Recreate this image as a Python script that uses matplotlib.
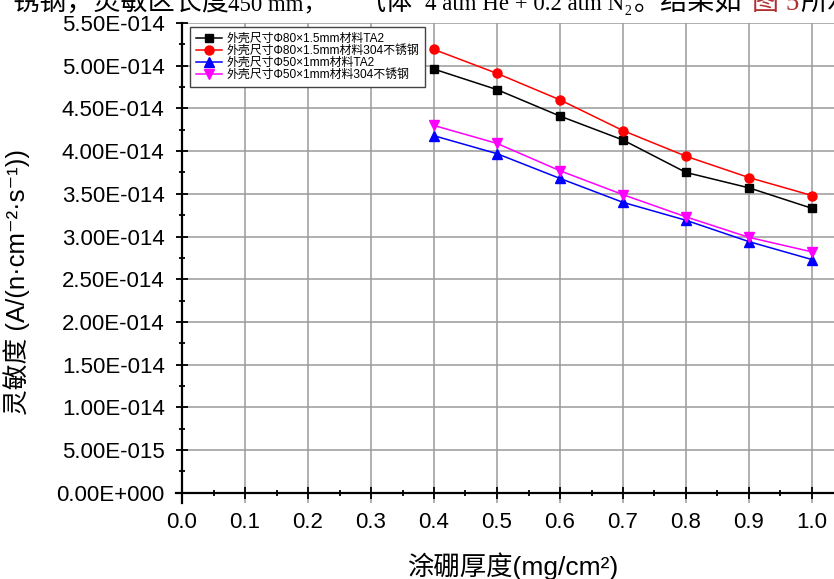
import numpy as np
import matplotlib
matplotlib.use("Agg")
import matplotlib.pyplot as plt
from matplotlib.ticker import MultipleLocator, FuncFormatter

plt.rcParams['font.family'] = ['Liberation Sans', 'Noto Sans CJK SC', 'DejaVu Sans']

# data
thickness = [0.4, 0.5, 0.6, 0.7, 0.8, 0.9, 1.0]
ta2_80 = [4.96e-14, 4.72e-14, 4.41e-14, 4.13e-14, 3.75e-14, 3.57e-14, 3.33e-14]
ss_80 = [5.19e-14, 4.91e-14, 4.60e-14, 4.24e-14, 3.94e-14, 3.69e-14, 3.48e-14]
ta2_50 = [4.18e-14, 3.97e-14, 3.68e-14, 3.40e-14, 3.19e-14, 2.94e-14, 2.73e-14]
ss_50 = [4.30e-14, 4.09e-14, 3.77e-14, 3.49e-14, 3.23e-14, 2.99e-14, 2.82e-14]
labels = ['外壳尺寸Φ80×1.5mm材料TA2', '外壳尺寸Φ80×1.5mm材料304不锈钢',
          '外壳尺寸Φ50×1mm材料TA2', '外壳尺寸Φ50×1mm材料304不锈钢']

fig = plt.figure(figsize=(8.34, 5.79), dpi=100)
ax = fig.add_axes([175.7 / 834, 1 - 503 / 579, 1 - 175.7 / 834, (503 - 23) / 579])

ax.plot(thickness, ta2_80, '-s', color='black', lw=1.1, ms=6, label=labels[0])
ax.plot(thickness, ss_80, '-o', color='red', lw=1.1, ms=6.5, label=labels[1])
ax.plot(thickness, ta2_50, '-^', color='blue', lw=1.1, ms=6.5, label=labels[2])
ax.plot(thickness, ss_50, '-v', color='magenta', lw=1.1, ms=6.5, label=labels[3])

ax.set_xlim(-0.01, (834 - 182) / 630)
ax.set_ylim(-0.12e-14, 5.5e-14)
ax.spines['top'].set_visible(False)
ax.spines['right'].set_visible(False)
ax.spines['left'].set_position(('data', 0))
ax.spines['bottom'].set_position(('data', 0))
ax.spines['left'].set_linewidth(1.6)
ax.spines['bottom'].set_linewidth(1.6)

ax.xaxis.set_major_locator(MultipleLocator(0.1))
ax.xaxis.set_minor_locator(MultipleLocator(0.05))
ax.yaxis.set_major_locator(MultipleLocator(0.5e-14))
ax.yaxis.set_minor_locator(MultipleLocator(0.25e-14))


def sci(v, pos):
    m, e = f"{v:.2E}".split('E')
    return f"{m}E{int(e):+04d}"


ax.yaxis.set_major_formatter(FuncFormatter(sci))
ax.xaxis.set_major_formatter(FuncFormatter(lambda v, p: f"{v:.1f}"))
ax.tick_params(which='major', direction='inout', length=9, width=1.3, labelsize=16)
ax.tick_params(which='minor', direction='inout', length=5, width=1.3)
ax.tick_params(axis='x', pad=9)
ax.tick_params(axis='y', pad=8)
ax.grid(True, which='major', color='#9a9a9a', lw=1.1)
ax.set_axisbelow(True)

ax.set_xlabel('涂硼厚度(mg/cm²)', fontsize=19)
ax.set_ylabel('灵敏度 (A/(n·cm⁻²·s⁻¹))', fontsize=18.5)
ax.xaxis.set_label_coords((513 - 175.7) / (834 - 175.7), -0.103)
ax.yaxis.set_label_coords(-0.222, 0.46)

leg = ax.legend(loc='upper left', bbox_to_anchor=(0.013, 1.004), fontsize=8.6,
                fancybox=False, edgecolor='#444444', framealpha=1,
                handlelength=2.2, borderpad=0.5, labelspacing=0.0, handletextpad=0.3)
leg.get_frame().set_linewidth(1.0)

# clipped line of document text above the chart
fam = ['Liberation Serif', 'Noto Sans CJK SC']
pieces = [(12, '锈钢，灵敏区长度', 19.5, 'black'),
          (228, '450 mm，', 16.5, 'black'),
          (358, '气体', 19.5, 'black'),
          (425, '4 atm He + 0.2 atm N₂', 16.5, 'black'),
          (634, '。结果如', 19.5, 'black'),
          (752, '图 5', 19.5, '#b03030'),
          (800, '所示', 19.5, 'black')]
for px, txt, fs, col in pieces:
    fig.text(px / 834, 1 - 10 / 579, txt, fontsize=fs, va='baseline', ha='left',
             color=col, family=fam)

fig.savefig('out.png', dpi=100)
